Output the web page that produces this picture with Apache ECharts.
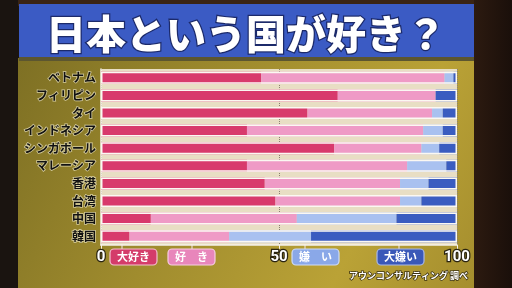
<!DOCTYPE html>
<html><head><meta charset="utf-8">
<script src="https://cdn.jsdelivr.net/npm/echarts@6/dist/echarts.min.js"></script>
<style>html,body{margin:0;padding:0;background:#1a1410;}#c{width:512px;height:288px;}</style>
</head><body><div id="c"></div>
<script>
const categories = ['ベトナム','フィリピン','タイ','インドネシア','シンガポール','マレーシア','香港','台湾','中国','韓国'];
const daisuki  = [45, 66.5, 58, 41, 65.5, 41, 46, 49, 14, 8];
const suki     = [51.5, 27.5, 35, 49.5, 24.5, 45, 38, 35, 41, 28];
const kirai    = [2.5, 0, 3, 5.5, 5, 11, 8, 6, 28, 23];
const daikirai = [1, 6, 4, 4, 5, 3, 8, 10, 17, 41];
const seriesNames = ['大好き','好　き','嫌　い','大嫌い'];
const tickValues = [0, 50, 100];
const colors = ['#d83a6c','#ef9ac6','#a9c1f0','#3a5cc0'];

const chart = echarts.init(document.getElementById('c'));
const jp = '"Noto Sans CJK JP", sans-serif';
const values = [daisuki, suki, kirai, daikirai];
// per-row totals (sum of the four answers) used for the white frame round each bar
const totals = categories.map((_, r) => values.reduce((s, arr) => s + arr[r], 0));

function badge(x, px, name, fill, stroke) {
  return {
    type: 'group', children: [
      {type:'line', shape:{x1:px,y1:244,x2:px,y2:250}, style:{stroke:'#f4e8e8',lineWidth:1}},
      {type:'rect', shape:{x:x,y:249,width:47,height:16,r:4}, style:{fill:fill,stroke:stroke,lineWidth:1.2}},
      {type:'text', style:{x:x+23.5,y:257,text:name,fill:'#fff',font:'bold 11px '+jp,align:'center',verticalAlign:'middle'}}
    ]
  };
}

chart.setOption({
  backgroundColor: '#1a1410',
  animation: false,
  graphic: [
    {type:'rect', z:-10, shape:{x:474,y:0,width:38,height:288}, style:{fill:new echarts.graphic.LinearGradient(0,0,1,0,[{offset:0,color:'#2c1a10'},{offset:1,color:'#1a0f0a'}])}},
    {type:'rect', z:-10, shape:{x:18,y:0,width:456,height:6}, style:{fill:'#3a2414'}},
    {type:'rect', z:-9, shape:{x:18,y:58,width:456,height:230}, style:{fill:new echarts.graphic.LinearGradient(0,0,1,1,[{offset:0,color:'#7e7024'},{offset:0.4,color:'#a08c2e'},{offset:0.75,color:'#baa236'},{offset:1,color:'#a58e2e'}])}},
    {type:'rect', z:-8, shape:{x:19,y:4,width:455,height:55}, style:{fill:'#3b5bc4'}},
    {type:'rect', z:-8, shape:{x:19,y:57,width:455,height:4}, style:{fill:'#5c5630'}},
    {type:'text', z:5, style:{x:246,y:34,text:'日本という国が好き？',fill:'#fff',font:'900 40px '+jp,align:'center',verticalAlign:'middle',stroke:'#1c2a6a',lineWidth:2.5}},
    badge(110, 122, seriesNames[0], '#d43c6a', '#f3c0d0'),
    badge(168, 192, seriesNames[1], '#e886bb', '#f7cde3'),
    badge(292, 305, seriesNames[2], '#8aa8e8', '#d0dcf6'),
    badge(377, 399, seriesNames[3], '#3a58b8', '#a8b8e8'),
    {type:'text', z:5, style:{x:468,y:276,text:'アウンコンサルティング 調べ',fill:'#fff',font:'bold 9px '+jp,align:'right',verticalAlign:'middle',stroke:'#3a3010',lineWidth:1.5}}
  ],
  grid: {left:101, right:55, top:69, bottom:43, show:true, backgroundColor:'#e8dec4', borderWidth:0},
  xAxis: {
    type:'value', min:0, max:100, interval:50,
    axisLine:{show:true, lineStyle:{color:'#f6f2ea', width:1.5}},
    axisTick:{show:true, length:4, lineStyle:{color:'#f6f2ea'}},
    splitLine:{show:true, lineStyle:{color:'#8a8070', type:'dotted', width:1}},
    axisLabel:{color:'#fff', fontSize:15, fontWeight:'bold', fontFamily:'Roboto, sans-serif', margin:5, textBorderColor:'#2a2410', textBorderWidth:2.5,
      formatter: v => tickValues.includes(v) ? String(v) : ''}
  },
  yAxis: {
    type:'category', data:categories, inverse:true,
    axisLine:{show:true, lineStyle:{color:'#f6f2ea', width:1.5}},
    axisTick:{show:false},
    axisLabel:{color:'#111', fontSize:12, fontWeight:'bold', fontFamily:jp, margin:5, textBorderColor:'rgba(245,240,210,0.7)', textBorderWidth:1.5}
  },
  series: values.map((d, i) => ({
    name: seriesNames[i], type:'bar', stack:'all', data:d, barWidth:12,
    itemStyle:{color:colors[i]}
  })).concat([{
    name:'frame', type:'bar', data:totals, barWidth:12, barGap:'-100%', z:5, silent:true,
    itemStyle:{color:'rgba(0,0,0,0)', borderColor:'#fbf8f2', borderWidth:1.5}
  }])
});
</script></body></html>
